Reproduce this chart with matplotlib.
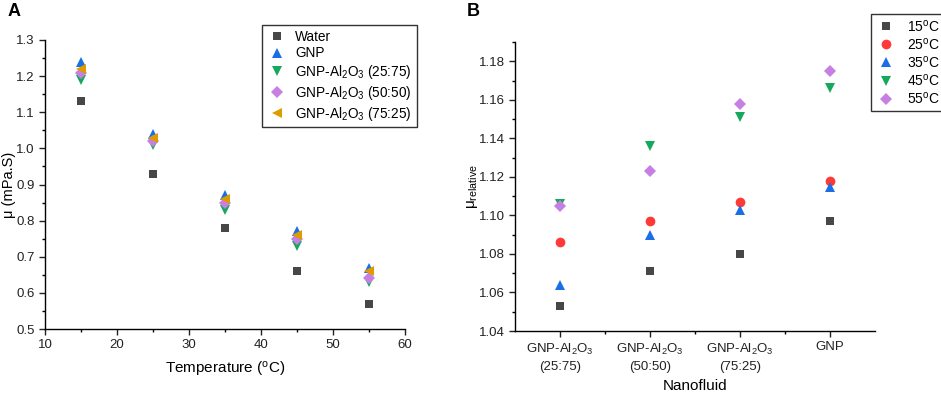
import matplotlib
matplotlib.use("Agg")
import matplotlib.pyplot as plt
from matplotlib.ticker import MultipleLocator

plt.rcParams['font.family'] = ['Liberation Sans', 'DejaVu Sans']
plt.rcParams['mathtext.fontset'] = 'custom'
plt.rcParams['mathtext.rm'] = 'Liberation Sans'
plt.rcParams['mathtext.it'] = 'Liberation Sans:italic'
plt.rcParams['mathtext.bf'] = 'Liberation Sans:bold'

# Panel A data
temps = [15, 25, 35, 45, 55]
water = [1.13, 0.93, 0.78, 0.66, 0.57]
gnp = [1.24, 1.04, 0.87, 0.77, 0.67]
hyb_25_75 = [1.19, 1.01, 0.83, 0.73, 0.63]
hyb_50_50 = [1.21, 1.02, 0.85, 0.75, 0.64]
hyb_75_25 = [1.22, 1.03, 0.86, 0.76, 0.66]
labels_a = ['Water', 'GNP', r'GNP-Al$_2$O$_3$ (25:75)',
            r'GNP-Al$_2$O$_3$ (50:50)', r'GNP-Al$_2$O$_3$ (75:25)']

# Panel B data
nanofluids = [r'GNP-Al$_2$O$_3$' + '\n(25:75)', r'GNP-Al$_2$O$_3$' + '\n(50:50)',
              r'GNP-Al$_2$O$_3$' + '\n(75:25)', 'GNP']
rel_15 = [1.053, 1.071, 1.080, 1.097]
rel_25 = [1.086, 1.097, 1.107, 1.118]
rel_35 = [1.064, 1.090, 1.103, 1.115]
rel_45 = [1.106, 1.136, 1.151, 1.166]
rel_55 = [1.105, 1.123, 1.158, 1.175]
labels_b = [r'15$^{\mathrm{o}}$C', r'25$^{\mathrm{o}}$C', r'35$^{\mathrm{o}}$C',
            r'45$^{\mathrm{o}}$C', r'55$^{\mathrm{o}}$C']

c_gray = '#474747'
c_red = '#ff3838'
c_blue = '#1a6fe6'
c_green = '#16a85c'
c_purple = '#c77fe3'
c_orange = '#de9c00'

W, H = 941, 393
fig = plt.figure(figsize=(W / 100, H / 100), dpi=100)

def rect(l, r, t, b):
    return [l / W, 1 - b / H, (r - l) / W, (b - t) / H]

axA = fig.add_axes(rect(45, 405, 40, 329))
axB = fig.add_axes(rect(515, 875, 42, 331))

ms = 7
series_a = [(water, 's', c_gray), (gnp, '^', c_blue), (hyb_25_75, 'v', c_green),
            (hyb_50_50, 'D', c_purple), (hyb_75_25, '<', c_orange)]
handles_a = []
for (vals, m, c), lab in zip(series_a, labels_a):
    msz = ms - 1.2 if m in ('D', 's') else ms
    h, = axA.plot(temps, vals, linestyle='none', marker=m, color=c, markersize=msz,
                  markeredgewidth=0, label=lab)
    handles_a.append(h)

axA.set_xlim(10, 60)
axA.set_ylim(0.5, 1.3)
axA.xaxis.set_major_locator(MultipleLocator(10))
axA.xaxis.set_minor_locator(MultipleLocator(5))
axA.yaxis.set_major_locator(MultipleLocator(0.1))
axA.yaxis.set_minor_locator(MultipleLocator(0.05))
axA.yaxis.set_major_formatter(matplotlib.ticker.FormatStrFormatter('%.1f'))
axA.set_xlabel(r'Temperature ($^{\mathrm{o}}$C)', fontsize=11, labelpad=6)
axA.set_ylabel('μ (mPa.S)', fontsize=10.5)
axA.yaxis.set_label_coords(-0.08, 0.5)

x_pos = [1, 2, 3, 4]
series_b = [(rel_15, 's', c_gray), (rel_25, 'o', c_red), (rel_35, '^', c_blue),
            (rel_45, 'v', c_green), (rel_55, 'D', c_purple)]
handles_b = []
for (vals, m, c), lab in zip(series_b, labels_b):
    msz = ms - 1.2 if m in ('D', 's') else ms
    h, = axB.plot(x_pos, vals, linestyle='none', marker=m, color=c, markersize=msz,
                  markeredgewidth=0, label=lab)
    handles_b.append(h)

axB.set_xlim(0.5, 4.5)
axB.set_ylim(1.04, 1.19)
axB.set_xticks(x_pos)
axB.set_xticklabels(nanofluids, linespacing=1.5)
axB.set_xticks([1.5, 2.5, 3.5], minor=True)
axB.yaxis.set_major_locator(MultipleLocator(0.02))
axB.yaxis.set_minor_locator(MultipleLocator(0.01))
axB.yaxis.set_major_formatter(matplotlib.ticker.FormatStrFormatter('%.2f'))
axB.set_xlabel('Nanofluid', fontsize=11, labelpad=4)
axB.set_ylabel('μ' + r'$_{\mathrm{relative}}$', fontsize=11)
axB.yaxis.set_label_coords(-0.097, 0.5)

for ax in (axA, axB):
    for s in ('top', 'right'):
        ax.spines[s].set_visible(False)
    for s in ('left', 'bottom'):
        ax.spines[s].set_linewidth(1.0)
    ax.tick_params(which='major', direction='out', length=4, width=1, labelsize=9.5,
                   colors='#222222')
    ax.tick_params(which='minor', direction='out', length=2.5, width=1)

legA = fig.legend(handles=handles_a, loc='upper left',
                  bbox_to_anchor=(262 / W, 1 - 25 / H), fontsize=9.8, frameon=True,
                  fancybox=False, edgecolor='black', borderpad=0.35, labelspacing=0.2,
                  handletextpad=0.6, handlelength=1.5, borderaxespad=0)
legA.get_frame().set_linewidth(1.0)
legB = fig.legend(handles=handles_b, loc='upper left',
                  bbox_to_anchor=(871 / W, 1 - 14 / H), fontsize=10, frameon=True,
                  fancybox=False, edgecolor='black', borderpad=0.3, labelspacing=0.15,
                  handletextpad=0.8, handlelength=1.5, borderaxespad=0)
legB.get_frame().set_linewidth(1.0)

fig.text(8 / W, 1 - 11 / H, 'A', fontsize=13, fontweight='bold', va='center', ha='left')
fig.text(467 / W, 1 - 11 / H, 'B', fontsize=13, fontweight='bold', va='center', ha='left')

fig.savefig('out.png', dpi=100)
